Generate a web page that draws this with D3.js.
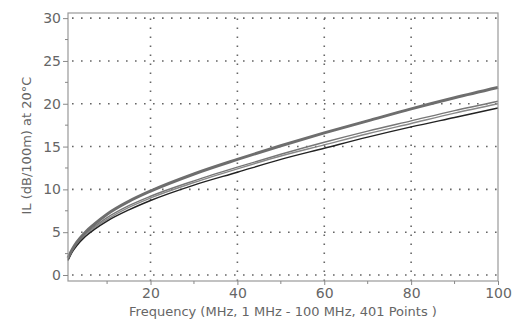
<!DOCTYPE html>
<html>
<head>
<meta charset="utf-8">
<script src="https://cdn.jsdelivr.net/npm/d3@7"></script>
<style>
  body { margin: 0; background: #fff; }
  text { font-family: 'DejaVu Sans', sans-serif; fill: #666; }
</style>
</head>
<body>
<svg id="canvas"></svg>
<script>
// Margin amounts
var margin = { top: 13, right: 30, bottom: 39, left: 68 };

// Canvas size
var canvasWidth = 528;
var canvasHeight = 320;

// Data
var freqs = [1, 2, 3, 5, 7, 10, 15, 20, 30, 40, 50, 60, 70, 80, 90, 100];
var seriesA = [2.0, 3.0, 3.8, 5.0, 5.9, 7.1, 8.6, 9.8, 11.8, 13.5, 15.1, 16.6, 18.0, 19.4, 20.7, 21.9];
var seriesB = [1.9, 2.9, 3.6, 4.8, 5.6, 6.7, 8.1, 9.2, 11.0, 12.6, 14.1, 15.5, 16.8, 18.0, 19.2, 20.3];
var seriesC = [1.8, 2.8, 3.5, 4.7, 5.5, 6.5, 7.9, 9.0, 10.8, 12.4, 13.9, 15.2, 16.5, 17.7, 18.9, 20.0];
var seriesD = [1.7, 2.7, 3.4, 4.5, 5.3, 6.3, 7.6, 8.7, 10.5, 12.0, 13.5, 14.8, 16.1, 17.3, 18.4, 19.5];
var xTicks = [20, 40, 60, 80, 100];
var xMinorTicks = [10, 30, 50, 70, 90];
var yTicks = [0, 5, 10, 15, 20, 25, 30];
var yMinorTicks = [2.5, 7.5, 12.5, 17.5, 22.5, 27.5];

var svg = d3.select('#canvas')
  .attr('width', canvasWidth)
  .attr('height', canvasHeight);

var x = d3.scaleLinear()
  .domain([1, 100])
  .range([margin.left, canvasWidth - margin.right]);

var y = d3.scaleLinear()
  .domain([-0.7, 30.6])
  .range([canvasHeight - margin.bottom, margin.top]);

var plotBottom = canvasHeight - margin.bottom;
var plotRight = canvasWidth - margin.right;

// Grid
var grid = svg.append('g').attr('class', 'grid')
  .attr('stroke', '#666')
  .attr('stroke-width', 1.6)
  .attr('stroke-dasharray', '1.6,7.4')
  .attr('stroke-linecap', 'butt');

grid.selectAll('.h')
  .data(yTicks)
  .enter()
  .append('line')
  .attr('x1', margin.left + 4)
  .attr('x2', plotRight)
  .attr('y1', function(d) { return y(d); })
  .attr('y2', function(d) { return y(d); });

grid.selectAll('.v')
  .data(xTicks.slice(0, 4))
  .enter()
  .append('line')
  .attr('x1', function(d) { return x(d); })
  .attr('x2', function(d) { return x(d); })
  .attr('y1', plotBottom)
  .attr('y2', margin.top);

// Curves
var line = d3.line()
  .x(function(d) { return x(d[0]); })
  .y(function(d) { return y(d[1]); })
  .curve(d3.curveMonotoneX);

function pairs(vals) {
  return freqs.map(function(f, i) { return [f, vals[i]]; });
}

var curves = [
  { vals: seriesB, color: '#777', width: 1.4 },
  { vals: seriesC, color: '#888', width: 1.4 },
  { vals: seriesD, color: '#222', width: 1.4 },
  { vals: seriesA, color: '#6e6e6e', width: 3 }
];

svg.append('g').attr('class', 'lines')
  .selectAll('path')
  .data(curves)
  .enter()
  .append('path')
  .attr('fill', 'none')
  .attr('stroke', function(d) { return d.color; })
  .attr('stroke-width', function(d) { return d.width; })
  .attr('d', function(d) { return line(pairs(d.vals)); });

// Frame
svg.append('rect')
  .attr('x', margin.left)
  .attr('y', margin.top)
  .attr('width', plotRight - margin.left)
  .attr('height', plotBottom - margin.top)
  .attr('fill', 'none')
  .attr('stroke', '#999')
  .attr('stroke-width', 1.2);

// Axes
var xAxis = d3.axisBottom(x)
  .tickValues(xTicks)
  .tickSize(4)
  .tickPadding(3);

var yAxis = d3.axisLeft(y)
  .tickValues(yTicks)
  .tickSize(5)
  .tickPadding(2);

svg.append('g')
  .attr('class', 'x-axis')
  .attr('transform', 'translate(0,' + plotBottom + ')')
  .call(xAxis);

svg.append('g')
  .attr('class', 'y-axis')
  .attr('transform', 'translate(' + margin.left + ',0)')
  .call(yAxis);

svg.selectAll('.domain').remove();
svg.selectAll('.tick line').attr('stroke', '#888');
svg.selectAll('.tick text')
  .attr('fill', '#666')
  .style('font-size', '14px');

// Minor ticks
svg.append('g').selectAll('line')
  .data(xMinorTicks)
  .enter()
  .append('line')
  .attr('x1', function(d) { return x(d); })
  .attr('x2', function(d) { return x(d); })
  .attr('y1', plotBottom)
  .attr('y2', plotBottom + 3)
  .attr('stroke', '#888');

svg.append('g').selectAll('line')
  .data(yMinorTicks)
  .enter()
  .append('line')
  .attr('x1', margin.left - 3)
  .attr('x2', margin.left)
  .attr('y1', function(d) { return y(d); })
  .attr('y2', function(d) { return y(d); })
  .attr('stroke', '#888');

// Axis titles
svg.append('text')
  .attr('x', (margin.left + plotRight) / 2)
  .attr('y', 316)
  .attr('text-anchor', 'middle')
  .style('font-size', '13px')
  .text('Frequency (MHz, 1 MHz - 100 MHz, 401 Points )');

svg.append('text')
  .attr('transform', 'translate(31,' + (y(15) - 1) + ') rotate(-90)')
  .attr('text-anchor', 'middle')
  .style('font-size', '13px')
  .text('IL (dB/100m) at 20°C');
</script>
</body>
</html>
